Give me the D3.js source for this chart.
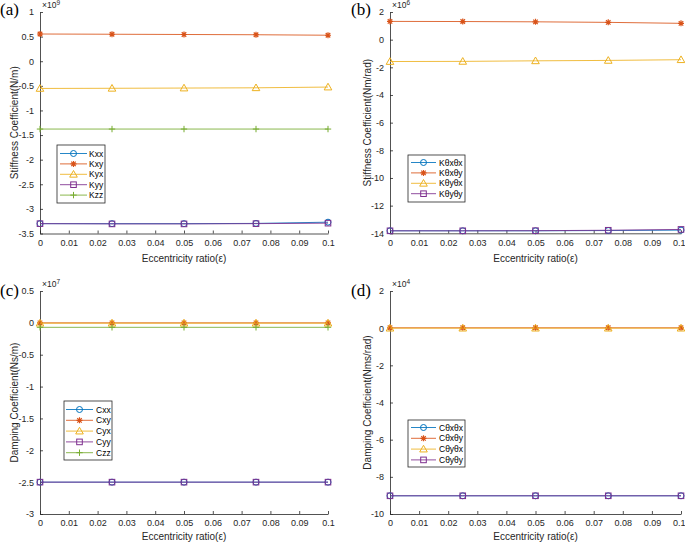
<!DOCTYPE html>
<html><head><meta charset="utf-8">
<script src="https://cdn.jsdelivr.net/npm/d3@7"></script>
<style>body{margin:0;background:#fff;}svg{display:block;}</style>
</head><body>
<svg id="c" width="685" height="542"></svg>
<script>
// ---- data ----
const ecc = [0, 0.025, 0.05, 0.075, 0.1];
const xTicks = [0, 0.01, 0.02, 0.03, 0.04, 0.05, 0.06, 0.07, 0.08, 0.09, 0.1];
const xTickLabels = ["0","0.01","0.02","0.03","0.04","0.05","0.06","0.07","0.08","0.09","0.1"];

// (a) stiffness x1e9 N/m
const Kxx = [-3.30, -3.30, -3.30, -3.295, -3.27];
const Kxy = [0.553, 0.548, 0.543, 0.538, 0.528];
const Kyx = [-0.553, -0.550, -0.545, -0.540, -0.525];
const Kyy = [-3.30, -3.305, -3.305, -3.30, -3.29];
const Kzz = [-1.378, -1.378, -1.378, -1.378, -1.378];
const aTicks = [1, 0.5, 0, -0.5, -1, -1.5, -2, -2.5, -3, -3.5];
const aTickLabels = ["1","0.5","0","-0.5","-1","-1.5","-2","-2.5","-3","-3.5"];

// (b) stiffness x1e6 Nm/rad
const Ktxtx = [-13.82, -13.82, -13.82, -13.80, -13.77];
const Ktxty = [1.32, 1.31, 1.29, 1.25, 1.18];
const Ktytx = [-1.58, -1.57, -1.53, -1.50, -1.45];
const Ktyty = [-13.82, -13.82, -13.81, -13.78, -13.72];
const bTicks = [2, 0, -2, -4, -6, -8, -10, -12, -14];
const bTickLabels = ["2","0","-2","-4","-6","-8","-10","-12","-14"];

// (c) damping x1e7 Ns/m
const Cxx = [-2.50, -2.50, -2.50, -2.50, -2.50];
const Cxy = [0.0, 0.0, 0.0, 0.0, 0.0];
const Cyx = [-0.005, -0.005, -0.005, -0.005, -0.005];
const Cyy = [-2.50, -2.50, -2.50, -2.50, -2.50];
const Czz = [-0.07, -0.07, -0.07, -0.07, -0.07];
const cTicks = [0.5, 0, -0.5, -1, -1.5, -2, -2.5, -3];
const cTickLabels = ["0.5","0","-0.5","-1","-1.5","-2","-2.5","-3"];

// (d) damping x1e4 Nms/rad
const Ctxtx = [-9.02, -9.02, -9.02, -9.02, -9.02];
const Ctxty = [0.02, 0.02, 0.02, 0.02, 0.02];
const Ctytx = [0.0, 0.0, 0.0, 0.0, 0.0];
const Ctyty = [-9.02, -9.02, -9.02, -9.02, -9.02];
const dTicks = [2, 0, -2, -4, -6, -8, -10];
const dTickLabels = ["2","0","-2","-4","-6","-8","-10"];

const colors = {blue:"#0072BD", orange:"#D95319", yellow:"#EDB120", purple:"#7E2F8E", green:"#77AC30"};

const panels = [
  {tag:"(a)", x0:40, x1:328, y0:12, y1:233.5, dom:[-3.5,1], ticks:aTicks, tickLabels:aTickLabels, exp:"9",
   ylabel:"Stiffness Coefficient(N/m)", ylx:14, tagx:0, tagy:15, xlaby:262,
   legend:{x:57, y:145, w:48, h:58, row0:153.5, dy:10.4, l0:60, l1:87, tx:89},
   series:[["Kxx",Kxx,"blue","circle"],["Kxy",Kxy,"orange","asterisk"],["Kyx",Kyx,"yellow","triangle"],["Kyy",Kyy,"purple","square"],["Kzz",Kzz,"green","plus"]]},
  {tag:"(b)", x0:390, x1:681, y0:12, y1:233.3, dom:[-14,2], ticks:bTicks, tickLabels:bTickLabels, exp:"6",
   ylabel:"Stiffness Coefficient(Nm/rad)", ylx:367, tagx:351, tagy:15, xlaby:262,
   legend:{x:408, y:155, w:57, h:47, row0:162.5, dy:10.4, l0:411, l1:436, tx:439},
   series:[["Kθxθx",Ktxtx,"blue","circle"],["Kθxθy",Ktxty,"orange","asterisk"],["Kθyθx",Ktytx,"yellow","triangle"],["Kθyθy",Ktyty,"purple","square"]]},
  {tag:"(c)", x0:40, x1:328, y0:291, y1:514, dom:[-3,0.5], ticks:cTicks, tickLabels:cTickLabels, exp:"7",
   ylabel:"Damping Coefficient(Ns/m)", ylx:14, tagx:0, tagy:296, xlaby:540,
   legend:{x:64, y:401, w:48, h:59, row0:409.5, dy:10.8, l0:66, l1:93, tx:96},
   series:[["Cxx",Cxx,"blue","circle"],["Cxy",Cxy,"orange","asterisk"],["Cyx",Cyx,"yellow","triangle"],["Cyy",Cyy,"purple","square"],["Czz",Czz,"green","plus"]]},
  {tag:"(d)", x0:390, x1:681, y0:291, y1:514, dom:[-10,2], ticks:dTicks, tickLabels:dTickLabels, exp:"4",
   ylabel:"Damping Coefficient(Nms/rad)", ylx:367, tagx:351, tagy:296, xlaby:540,
   legend:{x:408, y:420, w:57, h:47, row0:427.5, dy:10.8, l0:411, l1:436, tx:439},
   series:[["Cθxθx",Ctxtx,"blue","circle"],["Cθxθy",Ctxty,"orange","asterisk"],["Cθyθx",Ctytx,"yellow","triangle"],["Cθyθy",Ctyty,"purple","square"]]}
];

const svg = d3.select("#c");
const axisColor = "#262626";
const font = "Liberation Sans, Arial, Helvetica, sans-serif";

function marker(g, type, cx, cy, col) {
  if (type === "circle") {
    g.append("circle").attr("cx",cx).attr("cy",cy).attr("r",3).attr("fill","none").attr("stroke",col).attr("stroke-width",1);
  } else if (type === "square") {
    g.append("rect").attr("x",cx-2.8).attr("y",cy-2.8).attr("width",5.6).attr("height",5.6).attr("fill","none").attr("stroke",col).attr("stroke-width",1);
  } else if (type === "triangle") {
    const s = 3.8;
    g.append("path").attr("d",`M${cx},${cy-s}L${cx+s},${cy+s*0.75}L${cx-s},${cy+s*0.75}Z`).attr("fill","none").attr("stroke",col).attr("stroke-width",1);
  } else if (type === "plus") {
    const s = 3.2;
    g.append("path").attr("d",`M${cx-s},${cy}H${cx+s}M${cx},${cy-s}V${cy+s}`).attr("fill","none").attr("stroke",col).attr("stroke-width",1);
  } else if (type === "asterisk") {
    const s = 3, d = s*0.75;
    g.append("path").attr("d",`M${cx-s},${cy}H${cx+s}M${cx},${cy-s}V${cy+s}M${cx-d},${cy-d}L${cx+d},${cy+d}M${cx-d},${cy+d}L${cx+d},${cy-d}`)
      .attr("fill","none").attr("stroke",col).attr("stroke-width",1.2);
  }
}

panels.forEach(p => {
  const x = d3.scaleLinear().domain([0,0.1]).range([p.x0,p.x1]);
  const y = d3.scaleLinear().domain(p.dom).range([p.y1,p.y0]);
  const g = svg.append("g");

  // axes
  const xa = d3.axisBottom(x).tickValues(xTicks).tickFormat((d,i)=>xTickLabels[i]).tickSizeInner(-3).tickSizeOuter(0).tickPadding(6);
  const gx = g.append("g").attr("transform",`translate(0,${p.y1})`).call(xa);
  const ya = d3.axisLeft(y).tickValues(p.ticks).tickFormat((d,i)=>p.tickLabels[i]).tickSizeInner(-3).tickSizeOuter(0).tickPadding(6);
  const gy = g.append("g").attr("transform",`translate(${p.x0},0)`).call(ya);
  [gx,gy].forEach(a=>{
    a.select(".domain").attr("stroke",axisColor).attr("stroke-width",0.8);
    a.selectAll(".tick line").attr("stroke",axisColor).attr("stroke-width",0.8);
    a.selectAll(".tick text").attr("fill",axisColor).attr("font-family",font).attr("font-size",9);
  });
  // keep the last x label inside the window
  if (p.x1 > 670) {
    gx.selectAll(".tick text").filter((d,i)=>i===xTicks.length-1).attr("text-anchor","end").attr("dx",4);
  }

  // series lines and markers
  p.series.forEach(([name, vals, c, m]) => {
    const col = colors[c];
    const line = d3.line().x((d,i)=>x(ecc[i])).y(d=>y(d));
    g.append("path").datum(vals).attr("d",line).attr("fill","none").attr("stroke",col).attr("stroke-width",1).attr("stroke-opacity",0.85);
    const mg = g.append("g");
    vals.forEach((v,i)=>marker(mg, m, x(ecc[i]), y(v), col));
  });

  // legend
  const L = p.legend;
  const lg = g.append("g");
  lg.append("rect").attr("x",L.x).attr("y",L.y).attr("width",L.w).attr("height",L.h).attr("fill","#fff").attr("stroke","#262626").attr("stroke-width",0.8);
  p.series.forEach(([name, vals, c, m], i) => {
    const col = colors[c];
    const yy = L.row0 + i*L.dy;
    lg.append("line").attr("x1",L.l0).attr("x2",L.l1).attr("y1",yy).attr("y2",yy).attr("stroke",col).attr("stroke-width",1).attr("stroke-opacity",0.85);
    marker(lg, m, (L.l0+L.l1)/2, yy, col);
    lg.append("text").attr("x",L.tx).attr("y",yy+3).attr("font-family",font).attr("font-size",8.5).attr("fill","#000").text(name);
  });

  // exponent
  const ex = g.append("text").attr("x",p.x0+2).attr("y",p.y0-4).attr("font-family",font).attr("font-size",8.5).attr("fill",axisColor);
  ex.append("tspan").text("×10");
  ex.append("tspan").attr("dy",-3).attr("font-size",6.5).text(p.exp);

  // y label
  g.append("text").attr("transform",`translate(${p.ylx+3.5},${(p.y0+p.y1)/2}) rotate(-90)`).attr("text-anchor","middle")
    .attr("font-family",font).attr("font-size",10).attr("fill",axisColor).text(p.ylabel);
  // x label
  g.append("text").attr("x",(p.x0+p.x1)/2).attr("y",p.xlaby).attr("text-anchor","middle")
    .attr("font-family",font).attr("font-size",10).attr("fill",axisColor).text("Eccentricity ratio(ε)");
  // panel tag
  g.append("text").attr("x",p.tagx).attr("y",p.tagy).attr("font-family","Liberation Serif, Times New Roman, serif").attr("font-size",17).attr("fill","#000").text(p.tag);
});
</script>
</body></html>
